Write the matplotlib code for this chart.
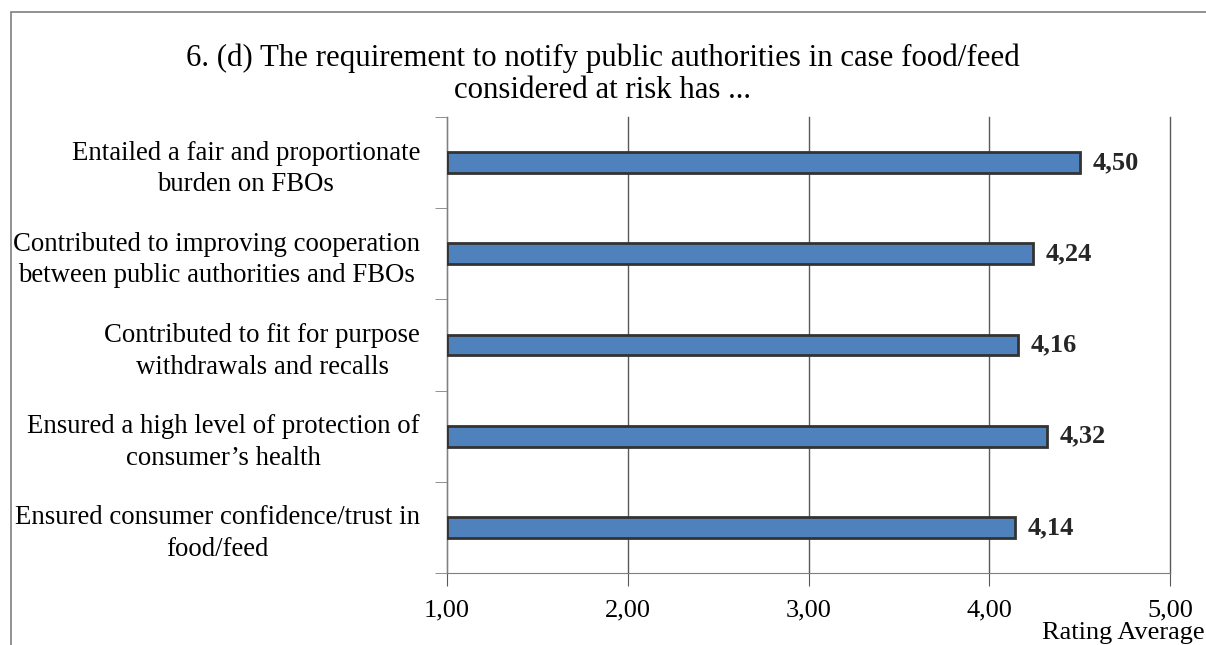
import matplotlib.pyplot as plt
import numpy as np
from matplotlib.patches import Rectangle

plt.rcParams['font.family'] = ['Liberation Serif', 'DejaVu Serif']

title = "6. (d) The requirement to notify public authorities in case food/feed\nconsidered at risk has ..."
labels = ["Entailed a fair and proportionate\nburden on FBOs",
          "Contributed to improving cooperation\nbetween public authorities and FBOs",
          "Contributed to fit for purpose\nwithdrawals and recalls",
          "Ensured a high level of protection of\nconsumer\u2019s health",
          "Ensured consumer confidence/trust in\nfood/feed"]
values = [4.50, 4.24, 4.16, 4.32, 4.14]
xticks = [1, 2, 3, 4, 5]

fig = plt.figure(figsize=(12.06, 6.45), dpi=100)
ax = fig.add_axes([447/1206, 1 - 573/645, (1170 - 447)/1206, (573 - 117)/645])

# outer chart frame
fig.patches.append(Rectangle((11/1206, -0.1), 1.2, 1 - 12/645 + 0.1, transform=fig.transFigure,
                             fill=False, edgecolor='#7f7f7f', linewidth=1.2))

y = np.arange(len(values))[::-1]
ax.barh(y, np.array(values) - 1, left=1, height=0.23, color='#4F81BD',
        edgecolor='#333333', linewidth=2, zorder=3)
for yi, v in zip(y, values):
    ax.text(v + 0.07, yi, f"{v:.2f}".replace('.', ','), va='center', ha='left',
            fontsize=19, fontweight='bold', color='#262626')

ax.set_xlim(1, 5)
ax.set_ylim(-0.5, len(values) - 0.5)
ax.set_xticks(xticks)
ax.set_xticklabels([f"{t:.2f}".replace('.', ',') for t in xticks], fontsize=19)
ax.xaxis.grid(True, color='#595959', linewidth=1, zorder=0)
for gl in ax.get_xgridlines():
    gl.set_clip_on(False)
ax.set_yticks(y)
ax.set_yticklabels(labels, fontsize=19.3)
ax.set_yticks(np.arange(-0.5, len(values)), minor=True)
ax.tick_params(axis='y', which='major', length=0, pad=19.5)
ax.tick_params(axis='y', which='minor', length=9, color='#7f7f7f')
ax.tick_params(axis='x', length=9, color='#595959', pad=10)
for lab in ax.get_yticklabels():
    lab.set_multialignment('center')
    lab.set_linespacing(1.35)

for s in ['top', 'right']:
    ax.spines[s].set_visible(False)
ax.spines['left'].set_color('#7f7f7f')
ax.spines['bottom'].set_color('#7f7f7f')

fig.text(1205/1206, 1 - 633/645, "Rating Average", ha='right', va='center', fontsize=19)
fig.text(0.5, 1 - 74/645, title, ha='center', va='center', fontsize=22.2, linespacing=1.15)

fig.savefig('out.png', dpi=100)
